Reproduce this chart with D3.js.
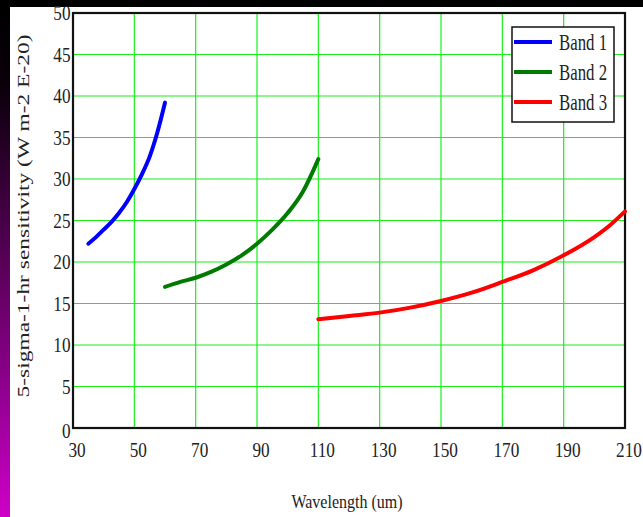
<!DOCTYPE html>
<html>
<head>
<meta charset="utf-8">
<script src="https://cdn.jsdelivr.net/npm/d3@7"></script>
<style>
  html, body { margin: 0; padding: 0; background: #000; }
  svg { display: block; }
</style>
</head>
<body>
<svg id="chart" width="643" height="517"></svg>
<script>
// Wavelength (um) and 5-sigma 1-hr sensitivity (W m-2 E-20) for each band
const band1Wavelength = [35, 37.5, 40, 42.5, 45, 47.5, 50, 52.5, 55, 57.5, 60];
const band1Sensitivity = [22.2, 23.0, 23.9, 24.8, 25.9, 27.2, 28.8, 30.6, 32.7, 35.6, 39.2];

const band2Wavelength = [60, 65, 70, 75, 80, 85, 90, 95, 100, 105, 110];
const band2Sensitivity = [17.0, 17.6, 18.1, 18.8, 19.7, 20.8, 22.2, 23.9, 25.9, 28.5, 32.4];

const band3Wavelength = [110, 120, 130, 140, 150, 160, 170, 180, 190, 200, 205, 210];
const band3Sensitivity = [13.1, 13.5, 13.9, 14.5, 15.3, 16.3, 17.6, 19.0, 20.8, 23.0, 24.4, 26.1];

const seriesNames = ["Band 1", "Band 2", "Band 3"];
const seriesColors = ["#0000ff", "#007a00", "#ff0000"];

const xTicks = [30, 50, 70, 90, 110, 130, 150, 170, 190, 210];
const yTicks = [0, 5, 10, 15, 20, 25, 30, 35, 40, 45, 50];

const xTitle = "Wavelength (um)";
const yTitle = "5-sigma-1-hr sensitivity  (W m-2 E-20)";

const SERIF = '"Liberation Serif", "Times New Roman", Times, "DejaVu Serif", serif';

const svg = d3.select("#chart");
const W = 643, H = 517;
const plot = { left: 73, right: 625, top: 13, bottom: 428 };

// page frame: black band on top, purple strip down the left side
const defs = svg.append("defs");
const grad = defs.append("linearGradient").attr("id", "strip")
  .attr("x1", 0).attr("y1", 0).attr("x2", 0).attr("y2", 1);
grad.append("stop").attr("offset", "0%").attr("stop-color", "#000");
grad.append("stop").attr("offset", "15%").attr("stop-color", "#0a000a");
grad.append("stop").attr("offset", "75%").attr("stop-color", "#900090");
grad.append("stop").attr("offset", "100%").attr("stop-color", "#d000c8");

svg.append("rect").attr("width", W).attr("height", H).attr("fill", "#000");
svg.append("rect").attr("x", 0).attr("y", 7).attr("width", 10).attr("height", H - 7).attr("fill", "url(#strip)");
svg.append("rect").attr("x", 10).attr("y", 7).attr("width", W - 10).attr("height", H - 7).attr("fill", "#fff");

const x = d3.scaleLinear().domain([30, 210]).range([plot.left, plot.right]);
const y = d3.scaleLinear().domain([0, 50]).range([plot.bottom, plot.top]);

// grid
const grid = svg.append("g").attr("stroke", "#1aee1a").attr("stroke-width", 1.2);
grid.selectAll("line.v").data(xTicks.slice(1, -1)).join("line")
  .attr("x1", d => x(d)).attr("x2", d => x(d))
  .attr("y1", plot.top).attr("y2", plot.bottom);
grid.selectAll("line.h").data(yTicks.slice(1, -1)).join("line")
  .attr("x1", plot.left).attr("x2", plot.right)
  .attr("y1", d => y(d)).attr("y2", d => y(d));

// axes
const xAxis = svg.append("g").attr("transform", `translate(0,${plot.bottom})`)
  .call(d3.axisBottom(x).tickValues(xTicks).tickSize(0).tickPadding(14).tickFormat(d3.format("d")));
const yAxis = svg.append("g").attr("transform", `translate(${plot.left},0)`)
  .call(d3.axisLeft(y).tickValues(yTicks).tickSize(0).tickPadding(3).tickFormat(d3.format("d")));
[xAxis, yAxis].forEach(a => {
  a.select(".domain").remove();
  a.selectAll("text").style("font-family", SERIF)
    .style("font-size", "21px").attr("fill", "#222");
});
xAxis.selectAll("text").attr("transform", "translate(3.5,0) scale(0.82,1)");
yAxis.selectAll("text").attr("transform", "scale(0.82,1)");
yAxis.selectAll(".tick").filter(d => d === 0).select("text").attr("dy", "0.45em");

// plot frame
svg.append("rect")
  .attr("x", plot.left).attr("y", plot.top)
  .attr("width", plot.right - plot.left).attr("height", plot.bottom - plot.top)
  .attr("fill", "none").attr("stroke", "#111").attr("stroke-width", 2.2);

// series
const series = [
  { xs: band1Wavelength, ys: band1Sensitivity },
  { xs: band2Wavelength, ys: band2Sensitivity },
  { xs: band3Wavelength, ys: band3Sensitivity }
];
const line = d3.line().x(d => x(d[0])).y(d => y(d[1])).curve(d3.curveMonotoneX);
series.forEach((s, i) => {
  svg.append("path")
    .datum(s.xs.map((v, j) => [v, s.ys[j]]))
    .attr("d", line)
    .attr("fill", "none")
    .attr("stroke", seriesColors[i])
    .attr("stroke-width", 4)
    .attr("stroke-linecap", "round");
});

// legend
const lg = svg.append("g");
lg.append("rect").attr("x", 512).attr("y", 27).attr("width", 102).attr("height", 95)
  .attr("fill", "#fff").attr("stroke", "#111").attr("stroke-width", 1.5);
seriesNames.forEach((name, i) => {
  const yy = 42 + i * 30;
  lg.append("line").attr("x1", 514).attr("x2", 552).attr("y1", yy).attr("y2", yy)
    .attr("stroke", seriesColors[i]).attr("stroke-width", 4);
  lg.append("text").attr("transform", `translate(559,${yy + 8}) scale(0.7,1)`)
    .style("font-family", SERIF).style("font-size", "24px").attr("fill", "#222")
    .text(name);
});

// axis titles
svg.append("text").attr("text-anchor", "middle")
  .attr("transform", "translate(347,508) scale(0.89,1)")
  .style("font-family", SERIF).style("font-size", "18px").attr("fill", "#222")
  .text(xTitle);
svg.append("text")
  .attr("transform", "translate(29,216) rotate(-90)")
  .attr("text-anchor", "middle")
  .style("font-family", SERIF).style("font-size", "16.5px").attr("fill", "#222")
  .attr("textLength", 363).attr("lengthAdjust", "spacingAndGlyphs")
  .text(yTitle);
</script>
</body>
</html>
